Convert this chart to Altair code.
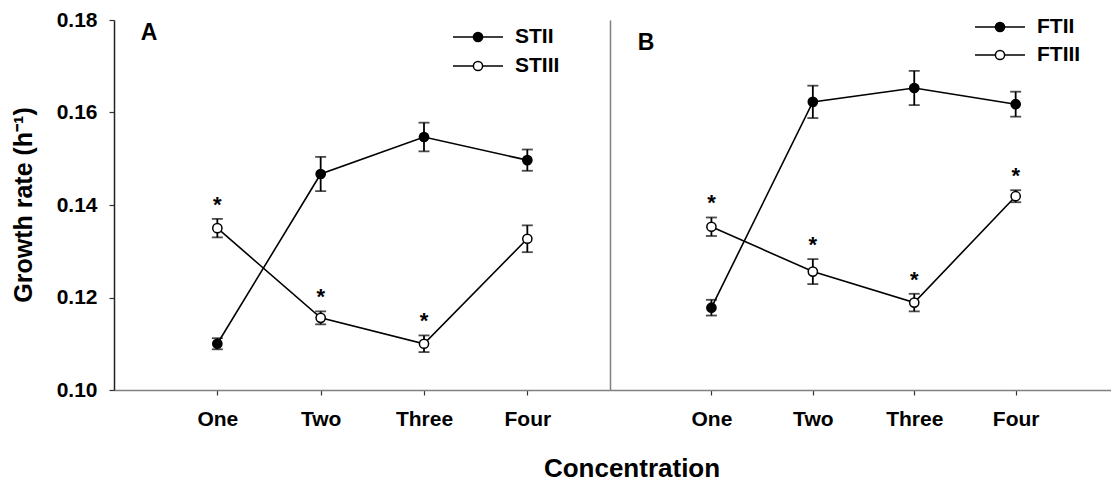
import altair as alt
import pandas as pd

FONT = "Liberation Sans"

categories = ["One", "Two", "Three", "Four"]
positions = [1, 2, 3, 4]

# Panel A
a_names = ["STII", "STIII"]
a_stii = [0.1100, 0.1467, 0.1547, 0.1497]
a_stii_err = [0.0012, 0.0037, 0.0031, 0.0023]
a_stiii = [0.1350, 0.1156, 0.1100, 0.1327]
a_stiii_err = [0.0020, 0.0014, 0.0018, 0.0029]
a_stiii_star = [True, True, True, False]

# Panel B
b_names = ["FTII", "FTIII"]
b_ftii = [0.1178, 0.1623, 0.1653, 0.1618]
b_ftii_err = [0.0017, 0.0035, 0.0037, 0.0027]
b_ftiii = [0.1353, 0.1256, 0.1189, 0.1419]
b_ftiii_err = [0.0020, 0.0027, 0.0019, 0.0013]
b_ftiii_star = [True, True, True, True]

y_ticks = [0.10, 0.12, 0.14, 0.16, 0.18]


def panel_frame(names, series, errs, stars):
    rows = []
    for name, vals, err, star in zip(names, series, errs, stars):
        for p, c, v, e, s in zip(positions, categories, vals, err, star):
            rows.append(dict(pos=p, cat=c, series=name, mean=v, err=e,
                             lo=v - e, hi=v + e, star=s))
    return pd.DataFrame(rows)


def build_panel(df, names, letter, letter_xy, legend_x, legend_y, width,
                x_max, left_axis):
    x_enc = alt.X(
        "pos:Q",
        scale=alt.Scale(domain=[0, x_max], nice=False, zero=False),
        axis=alt.Axis(
            values=positions, title=None, grid=False,
            labelExpr="['', 'One', 'Two', 'Three', 'Four'][datum.value]",
            labelFont=FONT, labelFontSize=21, labelFontWeight="bold",
            labelColor="black", labelPadding=13,
            tickSize=5, tickColor="#333333", tickWidth=1.2,
            domainColor="#808080", domainWidth=1.5,
        ),
    )
    if left_axis:
        y_axis = alt.Axis(
            values=y_ticks, format=".2f", title=None, grid=False,
            labelFont=FONT, labelFontSize=21, labelFontWeight="bold",
            labelColor="black", labelPadding=12,
            tickSize=5, tickColor="#333333", tickWidth=1.2,
            domainColor="#222222", domainWidth=1.5,
        )
    else:
        y_axis = alt.Axis(
            values=y_ticks, title=None, grid=False, labels=False, ticks=False,
            domainColor="#808080", domainWidth=1.5,
        )
    y_scale = alt.Scale(domain=[0.10, 0.18], nice=False, zero=False)
    y_enc = alt.Y("mean:Q", scale=y_scale, axis=y_axis)

    base = alt.Chart(df)
    fill = alt.Color("series:N",
                     scale=alt.Scale(domain=names, range=["black", "white"]),
                     legend=None)

    lines = base.mark_line(color="black", strokeWidth=1.6).encode(
        x=x_enc, y=y_enc, detail="series:N")
    bars = base.mark_rule(color="black", strokeWidth=1.8).encode(
        x="pos:Q", y=alt.Y("lo:Q", scale=y_scale), y2="hi:Q")
    cap_lo = base.mark_tick(orient="horizontal", color="black", size=11,
                            thickness=1.8).encode(x="pos:Q", y="lo:Q")
    cap_hi = base.mark_tick(orient="horizontal", color="black", size=11,
                            thickness=1.8).encode(x="pos:Q", y="hi:Q")
    points = base.mark_point(shape="circle", filled=True, size=85,
                             stroke="black", strokeWidth=1.5,
                             opacity=1).encode(x="pos:Q", y="mean:Q",
                                               fill=fill)
    stars = base.transform_filter("datum.star").mark_text(
        text="*", font=FONT, fontSize=22, fontWeight="bold", color="black",
        baseline="alphabetic", dy=-7).encode(x="pos:Q", y="hi:Q")

    layers = [lines, bars, cap_lo, cap_hi, points, stars]

    # Panel letter
    layers.append(
        alt.Chart(pd.DataFrame({"t": [letter]})).mark_text(
            font=FONT, fontSize=23, fontWeight="bold", color="black",
            baseline="middle", align="center").encode(
            text="t:N", x=alt.value(letter_xy[0]), y=alt.value(letter_xy[1]))
    )

    # Legend entries
    fills = ["black", "white"]
    for name, f, ly in zip(names, fills, legend_y):
        one = alt.Chart(pd.DataFrame({"t": [name]}))
        layers.append(one.mark_rule(color="black", strokeWidth=1.6).encode(
            x=alt.value(legend_x), x2=alt.value(legend_x + 50),
            y=alt.value(ly)))
        layers.append(one.mark_point(shape="circle", filled=True, size=85,
                                     fill=f, stroke="black", strokeWidth=1.5,
                                     opacity=1).encode(
            x=alt.value(legend_x + 25), y=alt.value(ly)))
        layers.append(one.mark_text(font=FONT, fontSize=21, fontWeight="bold",
                                    color="black", align="left",
                                    baseline="middle").encode(
            text="t:N", x=alt.value(legend_x + 62), y=alt.value(ly)))

    return alt.layer(*layers).properties(width=width, height=370)


df_a = panel_frame(a_names, [a_stii, a_stiii], [a_stii_err, a_stiii_err],
                   [[False] * 4, a_stiii_star])
df_b = panel_frame(b_names, [b_ftii, b_ftiii], [b_ftii_err, b_ftiii_err],
                   [[False] * 4, b_ftiii_star])

panel_a = build_panel(df_a, a_names, "A", (35, 13), 339, [17, 46], 496,
                      4.8, True)
panel_b = build_panel(df_b, b_names, "B", (36, 23), 365, [7, 35], 501,
                      4.94, False)

y_title = alt.Chart(pd.DataFrame({"t": ["Growth rate (h\u207b\u00b9)"]})).mark_text(
    font=FONT, fontSize=25, fontWeight="bold", color="black", angle=270,
    align="center", baseline="middle").encode(
    text="t:N", x=alt.value(-90), y=alt.value(185))
x_title = alt.Chart(pd.DataFrame({"t": ["Concentration"]})).mark_text(
    font=FONT, fontSize=26, fontWeight="bold", color="black",
    align="center", baseline="middle").encode(
    text="t:N", x=alt.value(22), y=alt.value(449))

left = alt.layer(panel_a, y_title)
right = alt.layer(panel_b, x_title)

chart = alt.hconcat(left, right, spacing=0, bounds="flush").properties(
    padding={"left": 12, "top": 9, "right": 0, "bottom": 4},
    background="white",
).configure_view(stroke=None)

chart.save("out.html", embed_options={"renderer": "svg", "actions": False})
